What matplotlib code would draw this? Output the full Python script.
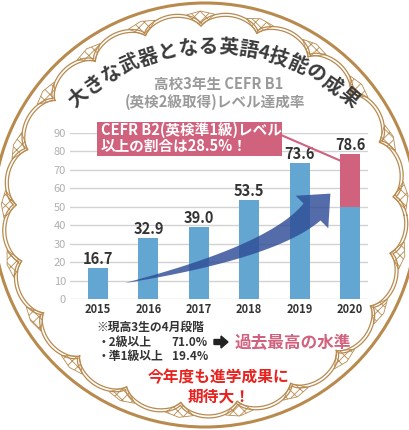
import numpy as np
import matplotlib
matplotlib.use('Agg')
import matplotlib.pyplot as plt
from matplotlib.patches import Circle, Polygon, Rectangle, FancyArrow

plt.rcParams['font.family'] = ['Noto Sans CJK JP', 'DejaVu Sans']
plt.rcParams['hatch.linewidth'] = 0.6

# data
years = ['2015', '2016', '2017', '2018', '2019', '2020']
rates = [16.7, 32.9, 39.0, 53.5, 73.6, 78.6]
b2_share = [0, 0, 0, 0, 0, 28.5]
y_ticks = [0, 10, 20, 30, 40, 50, 60, 70, 80, 90]

title_chars = ['大', 'き', 'な', '武', '器', 'と', 'な', 'る', '英', '語', '4', '技', '能', 'の', '成', '果']
subtitle = ['高校3年生 CEFR B1', '(英検2級取得)レベル達成率']
callout = ['CEFR B2(英検準1級)レベル', '以上の割合は28.5%！']

BLUE = '#62a6d1'
PINK = '#d0627e'
GOLD = '#b88a4e'
DARK = '#333333'

W, H = 410, 430
fig = plt.figure(figsize=(W / 100, H / 100), dpi=100)

# background: circle + lace
bg = fig.add_axes([0, 0, 1, 1], zorder=0)
bg.set_xlim(0, W)
bg.set_ylim(H, 0)
bg.axis('off')

cx, cy = 205, 215
bg.add_patch(Circle((cx, cy), 212, facecolor='white', edgecolor=GOLD, lw=2.2))

n_sc = 21
th0 = 5.5
th = np.radians(np.linspace(0, 360, 2000))
for rc, d in [(191, 12), (188, 12)]:
    r = rc + d * np.abs(np.sin(n_sc * (th - np.radians(th0)) / 2)) ** 0.6
    bg.plot(cx + r * np.cos(th), cy - r * np.sin(th), color=GOLD, lw=0.9)

for k in range(n_sc):
    a = np.radians(th0 + k * 360 / n_sc)
    pts = []
    for rr, da in [(189, 0), (201, -4.0), (204, 0), (201, 4.0)]:
        aa = a + np.radians(da)
        pts.append((cx + rr * np.cos(aa), cy - rr * np.sin(aa)))
    bg.add_patch(Polygon(pts, closed=True, facecolor='white', edgecolor=GOLD,
                         hatch='xxx', lw=0.6))

# chart
ax = fig.add_axes([70 / W, 1 - 299 / H, 298 / W, 166 / H], zorder=1)
ax.set_facecolor('none')
x = np.arange(len(years))
base = [r - s for r, s in zip(rates, b2_share)]
ax.bar(x, base, width=0.4, color=BLUE, zorder=2)
ax.bar(x, b2_share, bottom=base, width=0.4, color=PINK, zorder=2)
for i, v in enumerate(rates):
    ax.annotate(f'{v:.1f}', (i, v), xytext=(0, 1), textcoords='offset points',
                ha='center', va='bottom', fontsize=10.5, fontweight='bold', color=DARK)

ax.set_xlim(-0.556, 5.357)
ax.set_ylim(0, 90)
ax.set_yticks(y_ticks)
ax.set_xticks(x)
ax.set_xticklabels(years, fontsize=8, fontweight='bold', color=DARK)
ax.tick_params(axis='y', length=0, pad=3, labelsize=8, labelcolor='#b0b0b0')
ax.tick_params(axis='x', length=0, pad=3)
ax.yaxis.grid(True, color='#d2d2d2', lw=1)
ax.set_axisbelow(True)
for s in ax.spines.values():
    s.set_visible(False)

# foreground decorations
fg = fig.add_axes([0, 0, 1, 1], zorder=3)
fg.set_xlim(0, W)
fg.set_ylim(H, 0)
fg.axis('off')

# title along arc
tx, ty, tr = 213, 254, 207
units = [0.5 if c.isdigit() else 1.0 for c in title_chars]
centers = np.cumsum([0] + [(units[i] + units[i + 1]) / 2 for i in range(len(units) - 1)])
step = 81.6 / centers[-1]
for c, pos in zip(title_chars, centers):
    a = 130.7 - pos * step
    ar = np.radians(a)
    fg.text(tx + tr * np.cos(ar), ty - tr * np.sin(ar), c, rotation=a - 90,
            rotation_mode='anchor', ha='center', va='center', fontsize=14,
            fontweight='bold', color='#3a3a3a')

fg.text(219, 84, subtitle[0], ha='center', va='center', fontsize=10.5,
        fontweight='bold', color='#9a9a9a')
fg.text(215, 102, subtitle[1], ha='center', va='center', fontsize=10.5,
        fontweight='bold', color='#9a9a9a')

# callout box
fg.add_patch(Rectangle((97, 122), 185, 34, facecolor=PINK, edgecolor='none'))
fg.text(101, 130, callout[0], ha='left', va='center', fontsize=10.5,
        fontweight='bold', color='white')
fg.text(101, 146, callout[1], ha='left', va='center', fontsize=10.5,
        fontweight='bold', color='white')
fig.canvas.draw()
ex, ey = ax.transData.transform((5 - 0.2, rates[5] - 3.5))
fg.plot([281, ex], [135, H - ey], color=PINK, lw=1.5)

# curved growth arrow
P0, P1, P2 = np.array([125, 283]), np.array([272, 252]), np.array([312, 212])
t = np.linspace(0, 1, 120)[:, None]
curve = (1 - t) ** 2 * P0 + 2 * (1 - t) * t * P1 + t ** 2 * P2
tang = 2 * (1 - t) * (P1 - P0) + 2 * t * (P2 - P1)
tang = tang / np.linalg.norm(tang, axis=1)[:, None]
norm = np.column_stack([-tang[:, 1], tang[:, 0]])
half = 12 * t[:, 0] ** 0.9
left = curve + norm * half[:, None]
right = curve - norm * half[:, None]
td, nd = tang[-1], norm[-1]
head = [P2 + nd * 23, P2 + td * 26, P2 - nd * 23]
poly = np.vstack([left, head, right[::-1]])
fg.add_patch(Polygon(poly, closed=True, facecolor='#2e4c96', edgecolor='none', alpha=0.82))

# notes below
fs = 8.5
fg.text(96, 327, '※現高3生の4月段階', ha='left', va='center', fontsize=fs,
        fontweight='bold', color=DARK)
fg.text(98, 342, '・2級以上', ha='left', va='center', fontsize=fs,
        fontweight='bold', color=DARK)
fg.text(208, 342, '71.0%', ha='right', va='center', fontsize=fs,
        fontweight='bold', color=DARK)
fg.text(98, 356, '・準1級以上', ha='left', va='center', fontsize=fs,
        fontweight='bold', color=DARK)
fg.text(208, 356, '19.4%', ha='right', va='center', fontsize=fs,
        fontweight='bold', color=DARK)
fg.add_patch(FancyArrow(214, 342, 7, 0, width=5, head_width=12, head_length=7,
                        length_includes_head=False, color='#222222'))
fg.text(235, 343, '過去最高の水準', ha='left', va='center', fontsize=12,
        fontweight='bold', color=PINK)
fg.text(219, 377, '今年度も進学成果に', ha='center', va='center', fontsize=11.3,
        fontweight='bold', color='#e8231f')
fg.text(219, 397, '期待大！', ha='center', va='center', fontsize=11.3,
        fontweight='bold', color='#e8231f')

fig.savefig('out.png', dpi=100)
